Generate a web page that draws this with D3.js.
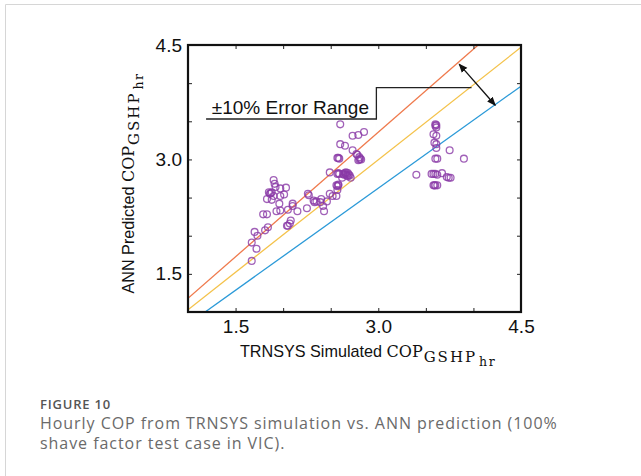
<!DOCTYPE html>
<html><head><meta charset="utf-8">
<script src="https://cdn.jsdelivr.net/npm/d3@7/dist/d3.min.js"></script>
<style>
html,body{margin:0;padding:0;background:#fff;}
svg{display:block;}
</style></head>
<body>
<script>
// ---- data ----
const simX = [1.67,1.67,1.72,1.70,1.73,1.81,1.84,1.79,1.83,1.90,1.91,1.92,
  1.85,1.87,1.86,1.88,1.83,1.88,1.90,1.97,2.03,2.01,1.97,1.96,1.93,1.97,2.05,2.10,2.10,2.15,
  2.05,2.07,2.08,2.04,2.26,2.25,2.32,2.33,2.39,2.42,2.43,2.46,2.49,2.49,2.52,2.56,2.57,
  2.56,2.58,2.57,2.58,2.57,2.59,2.58,2.57,2.59,2.58,
  2.63,2.65,2.66,2.67,2.68,2.69,2.66,2.70,2.68,2.64,2.62,2.71,
  2.77,2.78,2.80,2.81,2.82,2.80,2.79,
  2.60,2.60,2.65,2.73,2.73,2.79,2.85,2.27,2.35,2.40,
  3.40,3.60,3.61,3.60,3.61,3.58,3.61,3.61,3.59,3.61,3.60,3.62,3.75,3.90,
  3.56,3.58,3.60,3.62,3.67,3.72,3.74,3.76,3.58,3.59,3.60,3.62];
const annY = [1.67,1.91,1.83,2.05,2.00,2.07,2.11,2.28,2.28,2.73,2.68,2.64,
  2.57,2.56,2.55,2.57,2.48,2.47,2.52,2.62,2.63,2.54,2.52,2.42,2.32,2.33,2.34,2.42,2.39,2.32,
  2.13,2.16,2.20,2.13,2.55,2.36,2.46,2.44,2.44,2.39,2.32,2.45,2.83,2.55,2.52,2.52,2.60,
  2.66,2.67,2.65,2.66,2.81,2.81,2.82,3.02,3.01,3.02,
  2.81,2.82,2.80,2.79,2.82,2.80,2.83,2.79,2.78,2.80,2.76,2.76,
  3.07,3.06,3.03,3.01,3.00,3.00,2.99,
  3.46,3.20,3.18,3.12,3.31,3.32,3.36,2.53,2.45,2.48,
  2.80,3.46,3.45,3.44,3.42,3.33,3.31,3.20,3.22,3.15,3.01,3.01,3.12,3.01,
  2.81,2.81,2.81,2.80,2.82,2.77,2.76,2.76,2.66,2.66,2.66,2.66];
const ticks = [1.0,1.5,2.0,2.5,3.0,3.5,4.0,4.5];
const tickLabels = ["1.5","3.0","4.5"];
const upperLine = [[1.0,1.18],[4.05,4.5]];   // +10%
const centerLine = [[1.0,1.03],[4.5,4.47]];  // 1:1
const lowerLine = [[1.18,1.0],[4.5,3.96]];   // -10%

const W = 641, H = 476;
const L = 188, R = 521, T = 45, B = 312;
const svg = d3.select("body").append("svg").attr("width", W).attr("height", H);

// outer light frame
svg.append("path").attr("d", `M5.5,${H+2}V4.5H${W+2}`).attr("fill","none").attr("stroke","#d6d6d6").attr("stroke-width",1);

const x = d3.scaleLinear().domain([1.0,4.5]).range([L,R]);
const y = d3.scaleLinear().domain([1.0,4.5]).range([B,T]);

const g = svg.append("g");
g.append("defs").append("clipPath").attr("id","clip").append("rect")
  .attr("x",L).attr("y",T).attr("width",R-L).attr("height",B-T);

// lines
const lineGen = d3.line().x(d=>x(d[0])).y(d=>y(d[1]));
const lines = [[upperLine,"#ef7a4d"],[centerLine,"#f4c24a"],[lowerLine,"#2b9ad8"]];
const lg = g.append("g").attr("clip-path","url(#clip)");
lines.forEach(([d,c])=>{
  lg.append("path").attr("d",lineGen(d)).attr("fill","none").attr("stroke",c).attr("stroke-width",1.3);
});

// points
const pts = simX.map((v,i)=>[v,annY[i]]);
g.append("g").selectAll("circle").data(pts).join("circle")
  .attr("cx",d=>x(d[0])).attr("cy",d=>y(d[1])).attr("r",3.4)
  .attr("fill","none").attr("stroke","#8a3aa6").attr("stroke-opacity",0.8).attr("stroke-width",1.3);

// annotation polyline
const ann = [[1.19,3.53],[2.98,3.53],[2.98,3.94],[3.98,3.94]];
g.append("path").attr("d",lineGen(ann)).attr("fill","none").attr("stroke","#222").attr("stroke-width",1.3);
g.append("text").attr("x",x(1.25)).attr("y",y(3.60)).attr("font-family","Liberation Sans, Arial, sans-serif")
  .attr("font-size",19).attr("fill","#111").text("±10% Error Range");

// double arrow
const defs = svg.append("defs");
["s","e"].forEach(k=>{
  defs.append("marker").attr("id","ar"+k).attr("viewBox","0 0 10 10").attr("refX",9).attr("refY",5)
    .attr("markerWidth",7).attr("markerHeight",7).attr("orient", k==="e"?"auto":"auto-start-reverse")
    .append("path").attr("d","M0,1L10,5L0,9z").attr("fill","#111");
});
g.append("line").attr("x1",x(3.85)).attr("y1",y(4.25)).attr("x2",x(4.23)).attr("y2",y(3.71))
  .attr("stroke","#111").attr("stroke-width",1.3)
  .attr("marker-start","url(#ars)").attr("marker-end","url(#are)");

// axes (mirrored inward ticks)
const tickLen = 4;
const axB = d3.axisBottom(x).tickValues(ticks).tickSize(-tickLen).tickFormat(d=> tickLabels.includes(d.toFixed(1)) ? d.toFixed(1) : "").tickPadding(8);
const axT = d3.axisTop(x).tickValues(ticks).tickSize(-tickLen).tickFormat("");
const axL = d3.axisLeft(y).tickValues(ticks).tickSize(-tickLen).tickFormat(d=> tickLabels.includes(d.toFixed(1)) ? d.toFixed(1) : "").tickPadding(6);
const axR = d3.axisRight(y).tickValues(ticks).tickSize(-tickLen).tickFormat("");
[[axB,`translate(0,${B})`],[axT,`translate(0,${T})`],[axL,`translate(${L},0)`],[axR,`translate(${R},0)`]].forEach(([a,t])=>{
  const ga = g.append("g").attr("transform",t).call(a);
  ga.select(".domain").remove();
  ga.selectAll(".tick line").attr("stroke","#222").attr("stroke-width",1);
  ga.selectAll("text").attr("font-family","Liberation Sans, Arial, sans-serif").attr("font-size",19).attr("fill","#111");
});
g.append("rect").attr("x",L).attr("y",T).attr("width",R-L).attr("height",B-T)
  .attr("fill","none").attr("stroke","#111").attr("stroke-width",2.2);

// axis titles
function title(sel, main){
  const serif = "DejaVu Serif, Liberation Serif, serif";
  sel.append("tspan").attr("font-family","Liberation Sans, Arial, sans-serif").attr("font-size",16.2).text(main+" ");
  sel.append("tspan").attr("font-family",serif).attr("font-size",16).text("COP");
  sel.append("tspan").attr("font-family",serif).attr("font-size",15).attr("letter-spacing",2).attr("dy",5).attr("dx",1).text("GSHP");
  sel.append("tspan").attr("font-family",serif).attr("font-size",12.5).attr("letter-spacing",1.5).attr("dy",4).attr("dx",2).text("hr");
}
const xt = svg.append("text").attr("x",368).attr("y",357).attr("text-anchor","middle").attr("fill","#111");
title(xt,"TRNSYS Simulated");
const yt = svg.append("text").attr("transform","translate(134,183) rotate(-90)").attr("text-anchor","middle").attr("fill","#111");
title(yt,"ANN Predicted");

// caption
svg.append("text").attr("x",40).attr("y",409).attr("font-family","Open Sans, sans-serif").attr("font-weight",600)
  .attr("font-size",13).attr("letter-spacing",0.8).attr("fill","#555").text("FIGURE 10");
const cap = svg.append("text").attr("font-family","Open Sans, sans-serif").attr("font-size",16).attr("letter-spacing",0.95).attr("fill","#6a6a6a");
cap.append("tspan").attr("x",40).attr("y",429).text("Hourly COP from TRNSYS simulation vs. ANN prediction (100%");
cap.append("tspan").attr("x",40).attr("y",449).text("shave factor test case in VIC).");
</script>
</body></html>
